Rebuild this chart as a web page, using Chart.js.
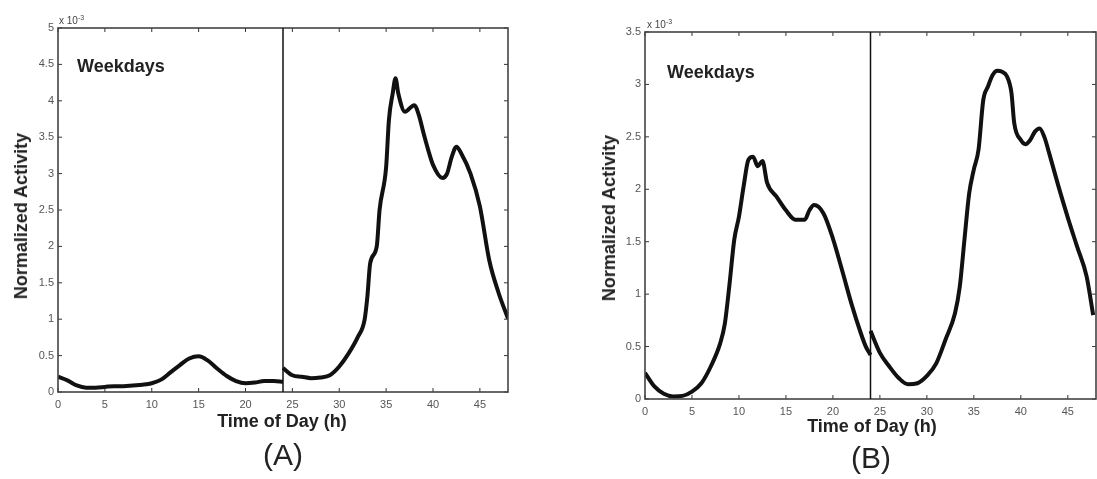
<!DOCTYPE html>
<html>
<head>
<meta charset="utf-8">
<script src="https://cdn.jsdelivr.net/npm/chart.js@4/dist/chart.umd.min.js"></script>
<style>
    body { margin: 0; background: #fff; width: 1097px; height: 479px; overflow: hidden; position: relative; font-family: "Liberation Sans", Arial, sans-serif; }
    .box { position: absolute; top: 0; height: 479px; }
    .lbl { position: absolute; white-space: nowrap; color: #222; transform: translate(-50%, -50%); line-height: 1; }
    .ylab { font-size: 18px; font-weight: bold; transform: translate(-50%, -50%) rotate(-90deg); }
    .xlab { font-size: 18px; font-weight: bold; }
    .tag { font-size: 18px; font-weight: bold; transform: none; }
    .panel { font-size: 30px; }
    .exp { position: absolute; font-size: 10px; color: #444; line-height: 1; }
    .exp sup { font-size: 7px; vertical-align: 4px; }
</style>
</head>
<body>
<div class="box" style="left:0;width:540px"><canvas id="chartA"></canvas></div>
<div class="box" style="left:560px;width:537px"><canvas id="chartB"></canvas></div>

<div class="lbl ylab" style="left:21px;top:216px">Normalized Activity</div>
<div class="lbl xlab" style="left:282px;top:421px">Time of Day (h)</div>
<div class="lbl panel" style="left:283px;top:455px">(A)</div>
<div class="lbl tag" style="left:77px;top:57px">Weekdays</div>
<div class="exp" style="left:59px;top:14px">x 10<sup>-3</sup></div>

<div class="lbl ylab" style="left:609px;top:218px">Normalized Activity</div>
<div class="lbl xlab" style="left:872px;top:426px">Time of Day (h)</div>
<div class="lbl panel" style="left:871px;top:458px">(B)</div>
<div class="lbl tag" style="left:667px;top:63px">Weekdays</div>
<div class="exp" style="left:647px;top:18px">x 10<sup>-3</sup></div>

<script>
// Tick labels
const xTicks = [0, 5, 10, 15, 20, 25, 30, 35, 40, 45];
const yTicksA = [0, 0.5, 1, 1.5, 2, 2.5, 3, 3.5, 4, 4.5, 5];
const yTicksB = [0, 0.5, 1, 1.5, 2, 2.5, 3, 3.5];

// (A) normalized activity, x 10^-3 -- first day (0-24 h) and second day (24-48 h)
const hoursA1 = [0, 1, 2, 3, 4, 5, 6, 7, 8, 9, 10, 11, 12, 13, 14, 15, 16, 17, 18, 19, 20, 21, 22, 23, 24];
const valuesA1 = [0.21, 0.16, 0.09, 0.06, 0.06, 0.07, 0.08, 0.08, 0.09, 0.10, 0.12, 0.17, 0.27, 0.37, 0.46, 0.49, 0.43, 0.32, 0.22, 0.15, 0.12, 0.13, 0.15, 0.15, 0.14];
const hoursA2 = [24, 25, 26, 27, 28, 29, 30, 31, 32, 32.7, 33, 33.3, 34, 34.3, 35, 35.3, 35.7, 36, 36.3, 37, 38, 38.5, 39, 39.5, 40, 41, 41.5, 42, 42.5, 43, 44, 45, 46, 47, 48];
const valuesA2 = [0.33, 0.23, 0.21, 0.19, 0.2, 0.23, 0.35, 0.53, 0.76, 0.99, 1.31, 1.77, 2.0, 2.5, 3.09, 3.74, 4.1, 4.31, 4.1, 3.85, 3.94, 3.8, 3.55, 3.32, 3.12, 2.94, 3.0, 3.23, 3.37, 3.28, 3.0, 2.55, 1.81, 1.36, 1.01];

// (B)
const hoursB1 = [0, 1, 2, 3, 4, 5, 6, 7, 8, 8.5, 9, 9.5, 10, 10.5, 11, 11.5, 12, 12.5, 13, 14, 15, 16, 17, 17.5, 18, 19, 20, 21, 22, 23, 23.5, 24];
const valuesB1 = [0.25, 0.12, 0.05, 0.025, 0.03, 0.07, 0.15, 0.31, 0.53, 0.72, 1.1, 1.52, 1.74, 2.03, 2.28, 2.31, 2.22, 2.27, 2.06, 1.93, 1.80, 1.71, 1.71, 1.8, 1.85, 1.77, 1.53, 1.22, 0.9, 0.62, 0.5, 0.42];
const hoursB2 = [24, 25, 26, 27, 28, 29, 30, 31, 32, 33, 33.5, 34, 34.5, 35, 35.5, 36, 36.5, 37, 37.5, 38, 38.5, 39, 39.3, 40, 40.5, 41, 41.5, 42, 42.5, 43, 44, 45, 46, 47, 47.7];
const valuesB2 = [0.65, 0.44, 0.31, 0.2, 0.14, 0.15, 0.22, 0.34, 0.57, 0.82, 1.07, 1.52, 1.96, 2.19, 2.38, 2.85, 2.98, 3.09, 3.13, 3.12, 3.08, 2.92, 2.63, 2.47, 2.43, 2.47, 2.55, 2.58, 2.50, 2.35, 2.03, 1.73, 1.45, 1.17, 0.80];

function toPoints(hours, values) {
    return hours.map((h, i) => ({ x: h, y: values[i] }));
}

function curve(hours, values) {
    return {
        data: toPoints(hours, values),
        borderColor: '#111',
        borderWidth: 4,
        pointRadius: 0,
        cubicInterpolationMode: 'monotone',
        fill: false
    };
}

// Matlab style box: frame, inward ticks on all four sides, divider at 24 h
function boxPlugin(yTicks) {
    return {
        id: 'matlabBox',
        afterDraw(chart) {
            const { ctx, chartArea: a, scales: { x, y } } = chart;
            ctx.save();
            ctx.strokeStyle = '#333';
            ctx.lineWidth = 1;
            ctx.beginPath();
            xTicks.forEach(v => {
                const px = x.getPixelForValue(v);
                ctx.moveTo(px, a.bottom); ctx.lineTo(px, a.bottom - 4);
                ctx.moveTo(px, a.top); ctx.lineTo(px, a.top + 4);
            });
            yTicks.forEach(v => {
                const py = y.getPixelForValue(v);
                ctx.moveTo(a.left, py); ctx.lineTo(a.left + 4, py);
                ctx.moveTo(a.right, py); ctx.lineTo(a.right - 4, py);
            });
            ctx.stroke();

            ctx.strokeStyle = '#444';
            ctx.lineWidth = 1.6;
            ctx.strokeRect(a.left, a.top, a.right - a.left, a.bottom - a.top);

            const dx = x.getPixelForValue(24);
            ctx.strokeStyle = '#111';
            ctx.lineWidth = 1.5;
            ctx.beginPath();
            ctx.moveTo(dx, a.top);
            ctx.lineTo(dx, a.bottom);
            ctx.stroke();
            ctx.restore();
        }
    };
}

function makeChart(id, datasets, yTicks, yMax, geo) {
    const ctx = document.getElementById(id);
    return new Chart(ctx.getContext('2d'), {
        type: 'line',
        data: { datasets: datasets },
        options: {
            responsive: true,
            maintainAspectRatio: false,
            animation: false,
            layout: { padding: { top: geo.top, right: geo.right, left: 0, bottom: 0 } },
            plugins: {
                legend: { display: false },
                tooltip: { enabled: false }
            },
            scales: {
                x: {
                    type: 'linear',
                    min: 0,
                    max: 48,
                    afterBuildTicks: s => { s.ticks = xTicks.map(v => ({ value: v })); },
                    afterFit: s => { s.height = geo.xHeight; },
                    grid: { display: false, drawTicks: false },
                    border: { display: false },
                    ticks: {
                        padding: 6,
                        color: '#555',
                        callback: v => String(v),
                        font: { family: 'Liberation Sans', size: 11 }
                    }
                },
                y: {
                    type: 'linear',
                    min: 0,
                    max: yMax,
                    afterBuildTicks: s => { s.ticks = yTicks.map(v => ({ value: v })); },
                    afterFit: s => { s.width = geo.yWidth; },
                    grid: { display: false, drawTicks: false },
                    border: { display: false },
                    ticks: {
                        padding: 4,
                        color: '#555',
                        callback: v => String(v),
                        font: { family: 'Liberation Sans', size: 11 }
                    }
                }
            }
        },
        plugins: [boxPlugin(yTicks)]
    });
}

document.addEventListener('DOMContentLoaded', () => {
    makeChart('chartA',
        [curve(hoursA1, valuesA1), curve(hoursA2, valuesA2)],
        yTicksA, 5,
        { top: 28, right: 32, xHeight: 87, yWidth: 58 });
    makeChart('chartB',
        [curve(hoursB1, valuesB1), curve(hoursB2, valuesB2)],
        yTicksB, 3.5,
        { top: 32, right: 1, xHeight: 80, yWidth: 85 });
});
</script>
</body>
</html>
